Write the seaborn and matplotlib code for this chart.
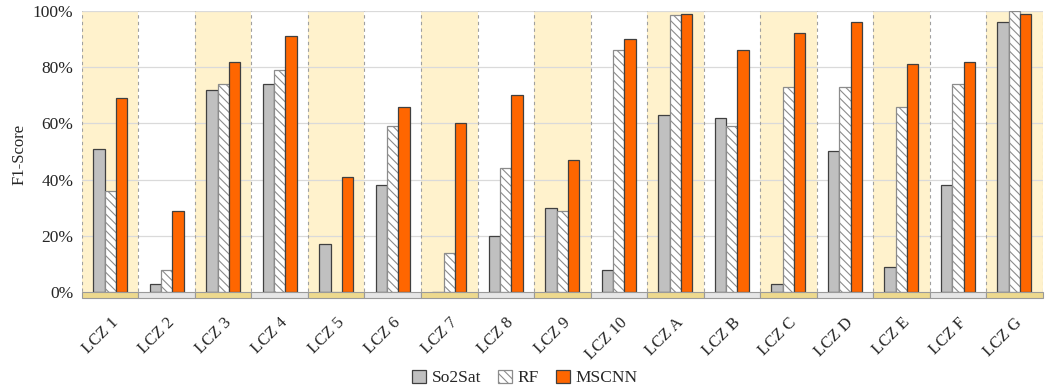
import pandas as pd
import matplotlib
matplotlib.use("Agg")
import matplotlib.pyplot as plt
import seaborn as sns
from matplotlib.patches import Rectangle
from matplotlib.ticker import PercentFormatter

# data
classes = ["LCZ 1", "LCZ 2", "LCZ 3", "LCZ 4", "LCZ 5", "LCZ 6", "LCZ 7", "LCZ 8", "LCZ 9",
           "LCZ 10", "LCZ A", "LCZ B", "LCZ C", "LCZ D", "LCZ E", "LCZ F", "LCZ G"]
so2sat = [51, 3, 72, 74, 17, 38, 0, 20, 30, 8, 63, 62, 3, 50, 9, 38, 96]
rf = [36, 8, 74, 79, 0, 59, 14, 44, 29, 86, 98.5, 59, 73, 73, 66, 74, 100]
mscnn = [69, 29, 82, 91, 41, 66, 60, 70, 47, 90, 99, 86, 92, 96, 81, 82, 99]
methods = ["So2Sat", "RF", "MSCNN"]

df = pd.DataFrame({
    "LCZ": classes * 3,
    "Method": [m for m in methods for _ in classes],
    "F1": so2sat + rf + mscnn,
})

sns.set_style("white")
plt.rcParams["font.family"] = ["Liberation Serif", "DejaVu Serif"]
plt.rcParams["hatch.linewidth"] = 0.8

fig, ax = plt.subplots(figsize=(10.5, 3.92), dpi=100)
fig.subplots_adjust(left=0.078, right=0.993, top=0.972, bottom=0.24)

# alternating column shading and dashed separators
n = len(classes)
for i in range(n):
    if i % 2 == 0:
        ax.axvspan(i - 0.5, i + 0.5, color="#FFF2CC", zorder=0, lw=0)
    ax.add_patch(Rectangle((i - 0.5, -2.1), 1, 2.1, clip_on=False, zorder=3,
                           facecolor="#EDD98E" if i % 2 == 0 else "#E6E6E6",
                           edgecolor="#9A9A9A", lw=0.8))
for i in range(n + 1):
    ax.axvline(i - 0.5, color="#A0A0A0", ls=(0, (3, 3)), lw=0.8, zorder=1)
for y in [20, 40, 60, 80, 100]:
    ax.axhline(y, color="#DADADA", lw=0.9, zorder=0.5)

sns.barplot(data=df, x="LCZ", y="F1", hue="Method", ax=ax, width=0.6, saturation=1,
            palette={"So2Sat": "#C0C0C0", "RF": "#FFFFFF", "MSCNN": "#FF6600"},
            edgecolor="#404040", linewidth=0.9, zorder=2)

for p in ax.containers[1].patches:
    p.set_hatch("\\\\\\\\")
    p.set_edgecolor("#8C8C8C")

ax.set_xlim(-0.5, n - 0.5)
ax.set_ylim(-2.1, 100)
ax.set_yticks([0, 20, 40, 60, 80, 100])
ax.yaxis.set_major_formatter(PercentFormatter(decimals=0))
ax.set_ylabel("F1-Score", fontsize=12)
ax.set_xlabel("")
ax.tick_params(axis="y", labelsize=12.5, length=0, pad=6)
ax.tick_params(axis="x", labelsize=12, length=0, pad=12)
plt.setp(ax.get_xticklabels(), rotation=45, ha="right", rotation_mode="anchor")
for s in ax.spines.values():
    s.set_visible(False)

ax.legend_.remove()
fig.legend(ax.containers, methods, loc="lower center", bbox_to_anchor=(0.5, -0.025),
           ncol=3, frameon=False, fontsize=12.5, handlelength=0.8, handleheight=0.8,
           handletextpad=0.3, columnspacing=1.0)

fig.savefig("out.png", dpi=100)
